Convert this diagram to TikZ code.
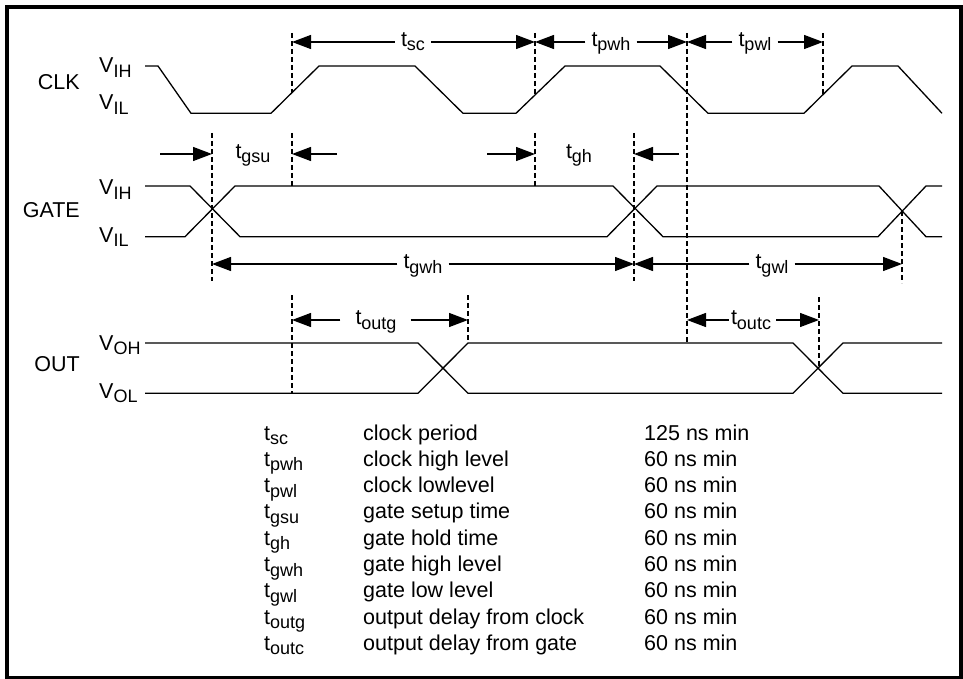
\documentclass[tikz,border=0pt]{standalone}
\usepackage{fontspec}
\setmainfont{Liberation Sans}
\usetikzlibrary{arrows.meta}
\newcommand{\lsub}[1]{\raisebox{-4.5pt}{\fontsize{18}{19}\selectfont #1}}
\newcommand{\tlab}[1]{t\lsub{#1}}
\newcommand{\vlab}[1]{V\lsub{#1}}
\begin{document}
\begin{tikzpicture}[x=1pt,y=-1pt,
  wave/.style={line width=1.3pt, line join=miter},
  dsh/.style={line width=1.2pt, dash pattern=on 5pt off 3pt},
  arr/.style={line width=1.3pt, -{Triangle[length=19pt,width=14pt]}},
  lbl/.style={font=\fontsize{21.5}{25}\selectfont, inner sep=0pt, anchor=base},
  lblw/.style={lbl, anchor=base west},
  lble/.style={lbl, anchor=base east}]
\useasboundingbox (0,0) rectangle (963,679);
\draw[line width=4pt] (7,7.5) rectangle (961,678);

% signal names
\node[lble] (clk) at (80,90) {CLK};
\node[lblw] (clkh) at (99,73) {\vlab{IH}};
\node[lblw] (clkl) at (99,110) {\vlab{IL}};
\node[lble] (gate) at (80,217) {GATE};
\node[lblw] (gateh) at (99,195) {\vlab{IH}};
\node[lblw] (gatel) at (99,242) {\vlab{IL}};
\node[lble] (out) at (80,371) {OUT};
\node[lblw] (outh) at (99,350) {\vlab{OH}};
\node[lblw] (outl) at (99,398) {\vlab{OL}};

% waveforms
\draw[wave] (145,66) -- (158,66) -- (191,113.3) -- (271,113.3) -- (319,66) -- (415,66) -- (463,113.3) -- (516,113.3) -- (565,66) -- (660,66) -- (708,113.3) -- (804,113.3) -- (852,66) -- (898,66) -- (942,113.3);
\draw[wave] (145,186) -- (190,186) -- (240,236.7) -- (607,236.7) -- (657,186) -- (879,186) -- (926,236.7) -- (942,236.7);
\draw[wave] (145,236.7) -- (185,236.7) -- (235,186) -- (613,186) -- (663,236.7) -- (878,236.7) -- (926,186) -- (942,186);
\draw[wave] (145,343) -- (418,343) -- (468,393.3) -- (793,393.3) -- (843,343) -- (942,343);
\draw[wave] (145,393.3) -- (418,393.3) -- (468,343) -- (793,343) -- (843,393.3) -- (942,393.3);

% dashed markers
\draw[dsh] (292,33) -- (292,93);
\draw[dsh] (535,33) -- (535,95);
\draw[dsh] (687,33) -- (687,343);
\draw[dsh] (823,33) -- (823,94.6);
\draw[dsh] (212,133) -- (212,281);
\draw[dsh] (292,133) -- (292,186);
\draw[dsh] (535,133) -- (535,186);
\draw[dsh] (634,133) -- (634,281);
\draw[dsh] (902,211) -- (902,283);
\draw[dsh] (292,295) -- (292,393.3);
\draw[dsh] (468,295) -- (468,343);
\draw[dsh] (819,297) -- (819,368);

% coordinates of marker points
\coordinate (a292) at (292,42);
\coordinate (a535) at (535,42);
\coordinate (a687) at (687,42);
\coordinate (a823) at (823,42);
\coordinate (g160) at (160,154);
\coordinate (g212) at (212,154);
\coordinate (g292) at (292,154);
\coordinate (g337) at (337,154);
\coordinate (h487) at (487,154);
\coordinate (h535) at (535,154);
\coordinate (h634) at (634,154);
\coordinate (h679) at (679,154);
\coordinate (w212) at (212,264);
\coordinate (w634) at (634,264);
\coordinate (w902) at (902,264);
\coordinate (o292) at (292,320);
\coordinate (o468) at (468,320);
\coordinate (o687) at (687,320);
\coordinate (o819) at (819,320);

% timing labels and arrows
\node[lbl] (lsc) at (413,46.5) {\tlab{sc}};
\draw[arr] ([xshift=-6pt]lsc.west |- a292) -- (a292);
\draw[arr] ([xshift=6pt]lsc.east |- a535) -- (a535);
\node[lbl] (lpwh) at (611,46.5) {\tlab{pwh}};
\draw[arr] ([xshift=-6pt]lpwh.west |- a535) -- (a535);
\draw[arr] ([xshift=6pt]lpwh.east |- a687) -- (a687);
\node[lbl] (lpwl) at (755,46.5) {\tlab{pwl}};
\draw[arr] ([xshift=-6pt]lpwl.west |- a687) -- (a687);
\draw[arr] ([xshift=6pt]lpwl.east |- a823) -- (a823);

\node[lbl] (lgsu) at (253,158.5) {\tlab{gsu}};
\draw[arr] (g160) -- (g212);
\draw[arr] (g337) -- (g292);
\node[lbl] (lgh) at (579,158.5) {\tlab{gh}};
\draw[arr] (h487) -- (h535);
\draw[arr] (h679) -- (h634);

\node[lbl] (lgwh) at (423,268.5) {\tlab{gwh}};
\draw[arr] ([xshift=-6pt]lgwh.west |- w212) -- (w212);
\draw[arr] ([xshift=6pt]lgwh.east |- w634) -- (w634);
\node[lbl] (lgwl) at (772,268.5) {\tlab{gwl}};
\draw[arr] ([xshift=-6pt]lgwl.west |- w634) -- (w634);
\draw[arr] ([xshift=6pt]lgwl.east |- w902) -- (w902);

\node[lbl] (loutg) at (376,324.5) {\tlab{outg}};
\draw[arr] ([xshift=-15pt]loutg.west |- o292) -- (o292);
\draw[arr] ([xshift=14pt]loutg.east |- o468) -- (o468);
\node[lbl] (loutc) at (751,324.5) {\tlab{outc}};
\draw[arr] ([xshift=-2pt]loutc.west |- o687) -- (o687);
\draw[arr] ([xshift=5pt]loutc.east |- o819) -- (o819);

% table
\foreach \s/\d/\v [count=\i from 0] in {sc/clock period/125 ns min, pwh/clock high level/60 ns min, pwl/clock lowlevel/60 ns min, gsu/gate setup time/60 ns min, gh/gate hold time/60 ns min, gwh/gate high level/60 ns min, gwl/gate low level/60 ns min, outg/output delay from clock/60 ns min, outc/output delay from gate/60 ns min} {
  \node[lblw] (ts\i) at (264,{440+26.3*\i}) {\tlab{\s}};
  \node[lblw] (td\i) at (363,{440+26.3*\i}) {\d};
  \node[lblw] (tv\i) at (644,{440+26.3*\i}) {\v};
}
\end{tikzpicture}
\end{document}
